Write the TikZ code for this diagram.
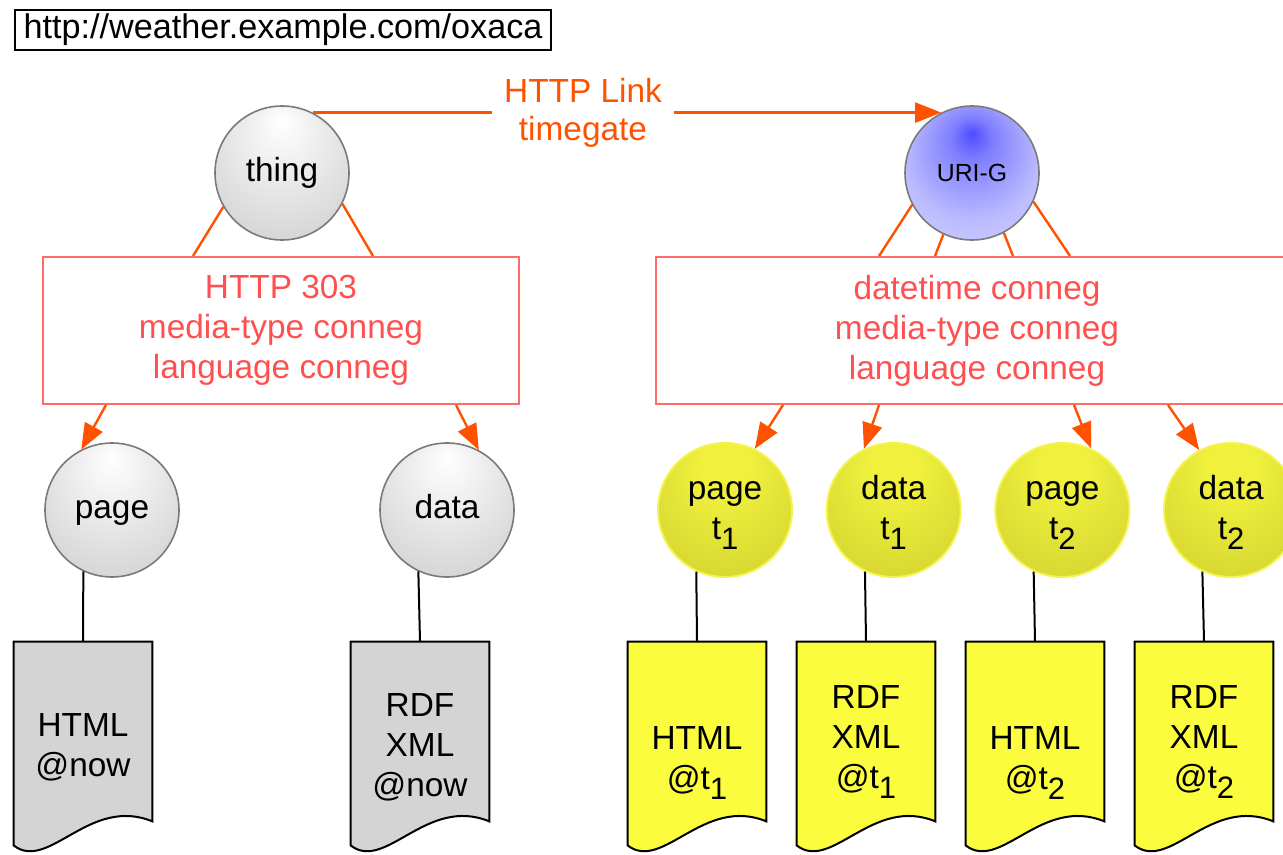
\documentclass[tikz,border=0pt]{standalone}
\usepackage{fontspec}
\setmainfont{Liberation Sans}
\usetikzlibrary{arrows.meta, positioning, backgrounds}

\definecolor{linkorange}{HTML}{FF5200}
\definecolor{negred}{HTML}{FF5050}
\definecolor{docgrey}{HTML}{D4D4D4}
\definecolor{docyellow}{HTML}{FCFC3E}
\definecolor{ballrim}{HTML}{7A7A7A}
\definecolor{yellowrim}{HTML}{F4F450}
\definecolor{yballtop}{HTML}{F2F23E}
\definecolor{yballmid}{HTML}{D8D832}
\definecolor{yballlow}{HTML}{ABAB26}

% kugeln
\pgfdeclareradialshading{greyball}{\pgfpoint{0bp}{20bp}}{color(0bp)=(white); color(8bp)=(white!96!black); color(40bp)=(white!80!black); color(50bp)=(white!68!black)}
\pgfdeclareradialshading{yellowball}{\pgfpoint{0bp}{20bp}}{color(0bp)=(yballtop); color(10bp)=(yballtop!90!yballmid); color(32bp)=(yballmid); color(50bp)=(yballlow)}
\pgfdeclareradialshading{blueball}{\pgfpoint{0bp}{15bp}}{color(0bp)=(blue!70!white); color(8bp)=(blue!50!white); color(25bp)=(blue!27!white); color(50bp)=(blue!9!white)}

\newcommand{\tsub}[1]{t\raisebox{-5pt}{\fontsize{15.5}{15}\selectfont #1}}

\begin{document}
\begin{tikzpicture}[x=0.5pt, y=-0.5pt,
        every node/.style={font=\fontsize{16.7}{20}\selectfont},
        urlbox/.style={draw=black, line width=1pt, minimum width=268pt, minimum height=20pt, inner sep=0pt, font=\fontsize{17.1}{20}\selectfont},
        greyball/.style={circle, draw=ballrim, line width=0.8pt, shading=greyball, minimum size=67pt, inner sep=0pt, text height=12pt, text depth=3.5pt},
        blueball/.style={circle, draw=ballrim, line width=0.8pt, shading=blueball, minimum size=67pt, inner sep=0pt, font=\fontsize{12.4}{14}\selectfont},
        yellowball/.style={circle, draw=yellowrim, line width=1pt, shading=yellowball, minimum size=67pt, inner sep=0pt, align=center},
        negbox/.style={draw=negred!85, line width=1pt, text=negred, align=center, minimum height=73.5pt},
        docpage/.style={minimum width=69pt, minimum height=105pt, inner sep=0pt},
        doctext/.style={align=center, inner sep=0pt},
        link/.style={draw=linkorange, line width=1.2pt, -{Triangle[length=13pt, width=10pt]}},
        linklabel/.style={fill=white, text=linkorange, align=center, inner sep=6pt, font=\fontsize{16.7}{19}\selectfont},
        neg/.style={draw=linkorange, line width=1.2pt},
        negarrow/.style={neg, -{Triangle[length=13pt, width=10pt]}},
        docline/.style={draw=black, line width=1pt}
    ]
    \useasboundingbox (0,0) rectangle (1283,855);
    \clip (0,0) rectangle (1283,855);

    \node[urlbox] (url) at (283,30) {http://weather.example.com/oxaca};

    % original resource
    \node[greyball] (thing) at (282,173) {thing};
    \node[negbox, minimum width=238pt] (hbox) at (281,330.5) {HTTP 303\\media-type conneg\\language conneg};
    \node[greyball] (page) at (112,510) {page};
    \node[greyball] (data) at (447,510) {data};
    \node[docpage] (dpage) at (83,747) {};
    \node[doctext] (tpage) at (dpage.center) {HTML\\@now};
    \node[docpage] (ddata) at (420,747) {};
    \node[doctext] (tdata) at (ddata.center) {RDF\\XML\\@now};

    % timegate
    \node[blueball] (urig) at (972,173) {URI-G};
    \node[negbox, minimum width=321pt] (tbox) at (977,330.5) {datetime conneg\\media-type conneg\\language conneg};
    \foreach \kind/\tm [count=\i] in {page/1, data/1, page/2, data/2} {
        \node[yellowball] (m\i) at ({725+(\i-1)*168.7},510) {\strut\kind\\\tsub{\tm}};
    }
    \foreach \txt/\tm/\dy [count=\i] in {{HTML}/1/-8, {RDF\\XML}/1/2.5, {HTML}/2/-8, {RDF\\XML}/2/2.5} {
        \node[docpage] (dm\i) at ({697+(\i-1)*169},747) {};
        \node[doctext] (tm\i) at ([yshift=\dy pt]dm\i.center) {\txt\\@\tsub{\tm}};
    }

    % links
    \draw[link] (thing.63) -- node[linklabel, pos=0.43] {HTTP Link\\timegate} (urig.117);
    \draw[neg] (thing.210) -- ([xshift=-44pt]hbox.north);
    \draw[neg] (thing.-27) -- ([xshift=46pt]hbox.north);
    \draw[negarrow] ([xshift=-87.5pt]hbox.south) -- (page.117);
    \draw[negarrow] ([xshift=87.5pt]hbox.south) -- (data.62);
    \foreach \a/\dx in {208/-49, 245/-21, 298/18, 335/46.5}
        \draw[neg] (urig.\a) -- ([xshift=\dx pt]tbox.north);
    \foreach \dx/\a [count=\i] in {-97/64, -49/116, 48.5/65, 95.5/118}
        \draw[negarrow] ([xshift=\dx pt]tbox.south) -- (m\i.\a);

    \draw[docline] (page.-115) -- (dpage.north);
    \draw[docline] (data.-115) -- (ddata.north);
    \foreach \i in {1,...,4}
        \draw[docline] (m\i.-115) -- (dm\i.north);

    % dokumente
    \begin{scope}[on background layer]
        \foreach \d/\c in {dpage/docgrey, ddata/docgrey, dm1/docyellow, dm2/docyellow, dm3/docyellow, dm4/docyellow}
            \draw[fill=\c, line width=1pt] (\d.north west) -- (\d.north east) -- ([yshift=15.5pt]\d.south east)
                .. controls ([xshift=-31.5pt, yshift=28.5pt]\d.south east) and ([xshift=17.5pt, yshift=-10pt]\d.south west)
                .. ([yshift=3.5pt]\d.south west) -- cycle;
    \end{scope}
\end{tikzpicture}
\end{document}
